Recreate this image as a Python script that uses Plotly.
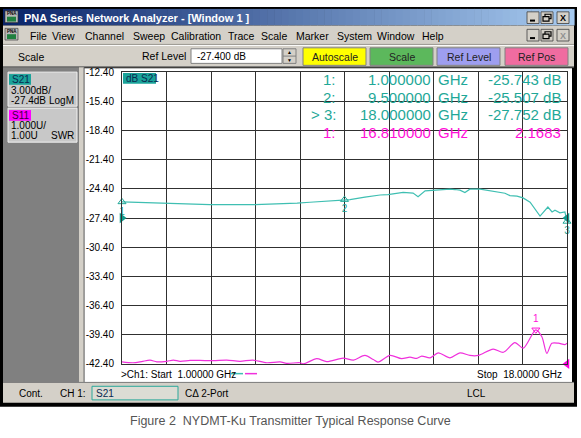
import plotly.graph_objects as go

W, H = 581, 438

# ---------------- data ----------------
start_ghz = 1.0
stop_ghz = 18.0
ref_level_db = -27.4
s11_ref_swr = 1.0
s11_top_swr = 11.0

s21_freq = [1.00, 1.31, 1.76, 2.07, 2.72, 3.22, 3.60, 3.98, 4.36, 4.82, 5.24, 5.70,
            6.08, 6.46, 6.84, 7.30, 7.69, 8.18, 8.56, 9.06, 9.50, 9.71, 10.28, 10.86,
            11.16, 11.43, 11.74, 12.12, 12.31, 12.58, 12.88, 13.22, 13.53, 13.72,
            13.91, 14.10, 14.29, 14.68, 15.06, 15.44, 15.63, 15.82, 16.09, 16.32,
            16.59, 16.97, 17.27, 17.43, 17.54, 17.73, 17.92, 18.00]
s21_db = [-25.743, -25.77, -25.83, -25.86, -25.93, -25.95, -25.98, -26.00, -26.03,
          -26.01, -26.05, -26.03, -26.03, -26.00, -25.95, -25.90, -25.87, -25.78,
          -25.70, -25.60, -25.507, -25.50, -25.25, -25.03, -25.00, -24.90, -24.77,
          -24.83, -25.20, -24.60, -24.53, -24.50, -24.43, -24.47, -24.53, -24.77,
          -24.43, -24.43, -24.60, -24.70, -24.85, -25.10, -25.15, -25.33, -25.77,
          -27.20, -26.27, -26.77, -26.60, -26.87, -26.77, -27.752]

s11_freq = [1.00, 1.42, 1.75, 2.07, 2.33, 2.71, 2.96, 3.22, 3.60, 3.98, 4.49, 5.00,
            5.51, 6.00, 6.53, 7.04, 7.29, 7.80, 7.93, 8.44, 8.82, 9.45, 9.84, 10.28,
            10.60, 10.78, 11.24, 11.68, 12.00, 12.26, 12.45, 12.77, 13.08, 13.53,
            13.91, 14.29, 14.61, 15.18, 15.57, 16.01, 16.33, 16.81, 17.04, 17.23,
            17.42, 17.67, 17.92, 18.00]
s11_swr = [1.07, 1.04, 1.08, 1.13, 1.07, 1.09, 1.13, 1.09, 1.12, 1.12, 1.11, 1.13,
           1.09, 1.13, 1.04, 1.07, 1.02, 1.04, 1.00, 1.18, 1.08, 1.20, 1.13, 1.29,
           1.15, 1.06, 1.29, 1.18, 1.23, 1.19, 1.27, 1.21, 1.38, 1.21, 1.38, 1.29,
           1.29, 1.51, 1.40, 1.73, 1.54, 2.1683, 1.93, 1.36, 1.71, 1.71, 1.66, 1.71]

y_tick_vals = [-12.4, -15.4, -18.4, -21.4, -24.4, -27.4, -30.4, -33.4, -36.4, -39.4, -42.4]
y_tick_labels = ["-12.40", "-15.40", "-18.40", "-21.40", "-24.40", "-27.40",
                 "-30.40", "-33.40", "-36.40", "-39.40", "-42.40"]

s21_marker_ids = ["1", "2", "3"]
s21_marker_rows = ["1:", "2:", "> 3:"]
s21_marker_freq = [1.0, 9.5, 18.0]
s21_marker_db = [-25.743, -25.507, -27.752]
s11_marker_ids = ["1"]
s11_marker_rows = ["1:"]
s11_marker_freq = [16.81]
s11_marker_swr = [2.1683]

menu_items = ["File", "View", "Channel", "Sweep", "Calibration", "Trace", "Scale",
              "Marker", "System", "Window", "Help"]
toolbar_buttons = ["Autoscale", "Scale", "Ref Level", "Ref Pos"]

# ---------------- styles / layout helpers ----------------
TEAL_TXT = "#1fa898"
TEAL_LINE = "#3fbfb2"
MAG_TXT = "#ff10d8"
MAG_LINE = "#f030dc"
GRAY = "#d4d0c8"
FONT = "Liberation Sans, Arial, sans-serif"

menu_x = [28, 50, 83, 131, 169, 226, 259, 294, 335, 375, 420]
button_x = [(303, 366), (370, 433), (437, 500), (505, 568)]
button_fill = ["#ffff00", "#5cb85c", "#9e9ef0", "#f06ca0"]

PX0, PX1, PY0, PY1 = 122, 567, 68, 368


def X(p):
    return p / W


def Y(p):
    return 1 - p / H


shapes = []
annotations = []


def rect(x0, y0, x1, y1, fill, line=None, lw=0, layer="below"):
    shapes.append(dict(type="rect", xref="paper", yref="paper",
                       x0=X(x0), x1=X(x1), y0=Y(y1), y1=Y(y0),
                       fillcolor=fill, layer=layer,
                       line=dict(color=line if line else fill, width=lw)))


def hline(x0, x1, y, color, lw=1):
    shapes.append(dict(type="line", xref="paper", yref="paper",
                       x0=X(x0), x1=X(x1), y0=Y(y), y1=Y(y),
                       line=dict(color=color, width=lw), layer="below"))


def vline(x, y0, y1, color, lw=1):
    shapes.append(dict(type="line", xref="paper", yref="paper",
                       x0=X(x), x1=X(x), y0=Y(y0), y1=Y(y1),
                       line=dict(color=color, width=lw), layer="below"))


def text(x, y, s, size=10, color="black", anchor="left", bold=False, family=FONT):
    if bold:
        s = "<b>" + s + "</b>"
    annotations.append(dict(xref="paper", yref="paper", x=X(x), y=Y(y), text=s,
                            showarrow=False, xanchor=anchor, yanchor="middle",
                            font=dict(size=size, color=color, family=family)))


# window frame
rect(0, 1, 577, 412, "black")
# title bar gradient
n = 80
c0 = (10, 36, 106)
c1 = (166, 202, 240)
for i in range(n):
    t = i / (n - 1)
    col = "rgb(%d,%d,%d)" % tuple(int(c0[k] + (c1[k] - c0[k]) * t) for k in range(3))
    xa = 3 + (574 - 3) * i / n
    xb = 3 + (574 - 3) * (i + 1) / n + 0.6
    rect(xa, 3, xb, 20, col)
# menu bar + toolbar
rect(3, 20, 574, 63, GRAY)
hline(3, 574, 40.5, "#ffffff")
hline(3, 574, 39.5, "#9a9890")
hline(3, 574, 62.5, "#606060")

# icons
for iy in (5, 23):
    rect(5, iy, 18, iy + 12, "#b8b8b8", "#303030", 0.6)
    rect(7, iy + 6, 16, iy + 11, "#208040")
    text(11.5, iy + 3, "PNA", 4.5, "#000", "center", True)

text(22, 12, "PNA Series Network Analyzer - [Window 1 ]", 11, "white", "left", True)

# window control buttons
for (by0, by1, close_col) in ((6, 18, "black"), (24, 36, "#909090")):
    for k, bx in enumerate((527, 541, 557)):
        rect(bx, by0, bx + 12, by1, GRAY, "#404040", 0.8)
        if k == 0:
            hline(bx + 3, bx + 8, by1 - 3, "black", 2)
        elif k == 1:
            rect(bx + 4, by0 + 2.5, bx + 10, by0 + 7, "rgba(0,0,0,0)", "black", 1.2)
            rect(bx + 2, by0 + 5, bx + 8, by1 - 2.5, GRAY, "black", 1.2)
        else:
            text(bx + 6, (by0 + by1) / 2 + 0.5, "X", 9, close_col, "center", True)

for name, mx in zip(menu_items, menu_x):
    text(mx, 31, name, 10.5, "black")

# toolbar
text(16, 52, "Scale", 10.5, "black")
text(188, 51, "Ref Level", 10.5, "black", "right")
rect(191, 44, 282, 59, "white", "#808080", 1)
text(195, 51.5, "-27.400 dB", 10, "black")
rect(283, 44, 296, 59, GRAY, "#808080", 1)
hline(283, 296, 51.5, "#808080")
text(289.5, 47.5, "▲", 5, "#000", "center")
text(289.5, 55.5, "▼", 5, "#000", "center")
for name, (bx0, bx1), col in zip(toolbar_buttons, button_x, button_fill):
    rect(bx0, 43, bx1, 61, col, "#808080", 1)
    text((bx0 + bx1) / 2, 52, name, 10.5, "#222", "center")

# main area
rect(3, 63, 79, 387, "#808080")
rect(79, 63, 84, 387, GRAY)
vline(84, 63, 387, "#707070")
rect(84.5, 64, 572, 387, "white")

# trace info boxes in left panel
rect(8, 68, 77, 103, "#c8c8c8", "#f0f0f0", 1)
rect(9, 70, 31, 81, "#1aa39a")
text(10, 75.5, "S21", 10, "#0a2a50")
text(9, 87, "3.000dB/", 10, "black")
text(9, 97, "-27.4dB", 10, "black")
text(76, 97, "LogM", 10, "black", "right")
rect(8, 105, 77, 140, "#c8c8c8", "#f0f0f0", 1)
rect(9, 107, 31, 118, "#ff00ff")
text(10, 112.5, "S11", 10, "#3a0040")
text(9, 123, "1.000U/", 10, "black")
text(9, 133, "1.00U", 10, "black")
text(76, 133, "SWR", 10, "black", "right")

# "dB S21" tag in graticule
rect(123, 69, 156, 80, "#1aa39a", layer="above")
text(124, 74.5, "dB S21", 10, "#0a2a50")

# marker readout table
for row, f, v, i in zip(s21_marker_rows, s21_marker_freq, s21_marker_db, range(3)):
    yy = 76 + 18 * i
    text(338, yy, row, 15, TEAL_TXT, "right")
    text(433, yy, "%.6f" % f, 15, TEAL_TXT, "right")
    text(436, yy, "GHz", 15, TEAL_TXT, "left")
    text(563, yy, "%.3f dB" % v, 15, TEAL_TXT, "right")
for row, f, v in zip(s11_marker_rows, s11_marker_freq, s11_marker_swr):
    yy = 130
    text(338, yy, row, 15, MAG_TXT, "right")
    text(433, yy, "%.6f" % f, 15, MAG_TXT, "right")
    text(436, yy, "GHz", 15, MAG_TXT, "left")
    text(563, yy, "%.4f" % v, 15, MAG_TXT, "right")

# bottom channel annotation
text(119, 378.5, ">Ch1: Start\u00a0 %.5f GHz" % start_ghz, 10, "black")
hline(231, 243, 378, TEAL_LINE, 1.5)
hline(245, 257, 378, MAG_LINE, 1.5)
text(564, 378.5, "Stop\u00a0 %.4f GHz" % stop_ghz, 10, "black", "right")

# status bar
rect(3, 387, 574, 408, GRAY)
hline(3, 574, 387, "#808080")
text(17, 398, "Cont.", 10, "black")
text(58, 398, "CH 1:", 10, "black")
rect(92, 391, 178, 405, "#dcdcd4", "#2aa89a", 1)
text(94, 398, "S21", 10, "#0a2a50")
text(183, 398, "CΔ 2-Port", 10, "black")
text(465, 398, "LCL", 10, "black")

# caption
text(290, 427, "Figure 2\u00a0 NYDMT-Ku Transmitter Typical Response Curve", 12.5, "#555555", "center")

# ---------------- traces ----------------
fig = go.Figure()
fig.add_trace(go.Scatter(x=s21_freq, y=s21_db, mode="lines", yaxis="y",
                         line=dict(color=TEAL_LINE, width=1.2), hoverinfo="skip"))
fig.add_trace(go.Scatter(x=s11_freq, y=s11_swr, mode="lines", yaxis="y2",
                         line=dict(color=MAG_LINE, width=1.2, shape="spline", smoothing=0.8),
                         hoverinfo="skip"))
fig.add_trace(go.Scatter(x=s21_marker_freq, y=s21_marker_db, mode="markers+text",
                         text=s21_marker_ids, textposition="bottom center",
                         textfont=dict(size=10, color=TEAL_TXT, family=FONT),
                         marker=dict(symbol="triangle-up-open", size=7, color=TEAL_TXT,
                                     line=dict(width=1)),
                         cliponaxis=False, hoverinfo="skip"))
fig.add_trace(go.Scatter(x=s11_marker_freq, y=s11_marker_swr, mode="markers+text",
                         yaxis="y2", text=s11_marker_ids, textposition="top center",
                         textfont=dict(size=10, color=MAG_TXT, family=FONT),
                         marker=dict(symbol="triangle-down-open", size=7, color=MAG_TXT,
                                     line=dict(width=1)),
                         cliponaxis=False, hoverinfo="skip"))
# reference position pointers
fig.add_trace(go.Scatter(x=[start_ghz, stop_ghz], y=[ref_level_db, ref_level_db],
                         mode="markers",
                         marker=dict(symbol=["triangle-right", "triangle-left"], size=9,
                                     color="#109a8c"),
                         cliponaxis=False, hoverinfo="skip"))
fig.add_trace(go.Scatter(x=[stop_ghz], y=[s11_ref_swr], mode="markers", yaxis="y2",
                         marker=dict(symbol="triangle-left", size=9, color="#ff00e0"),
                         cliponaxis=False, hoverinfo="skip"))

fig.update_layout(
    width=W, height=H, autosize=False,
    margin=dict(l=0, r=0, t=0, b=0, pad=0),
    paper_bgcolor="white", plot_bgcolor="rgba(0,0,0,0)",
    showlegend=False,
    shapes=shapes, annotations=annotations,
    font=dict(family=FONT),
    xaxis=dict(domain=[X(PX0), X(PX1)], range=[start_ghz, stop_ghz],
               tick0=start_ghz, dtick=(stop_ghz - start_ghz) / 10,
               showgrid=True, gridcolor="#303030", gridwidth=1,
               showticklabels=False, ticks="", zeroline=False,
               showline=True, linecolor="#303030", linewidth=1, mirror=True,
               fixedrange=True),
    yaxis=dict(domain=[Y(PY1), Y(PY0)], range=[y_tick_vals[-1], y_tick_vals[0]],
               tickvals=y_tick_vals, ticktext=y_tick_labels,
               showgrid=True, gridcolor="#303030", gridwidth=1,
               ticks="outside", ticklen=5, tickcolor="rgba(0,0,0,0)",
               tickfont=dict(size=10, color="black", family=FONT),
               zeroline=False, showline=True, linecolor="#303030", linewidth=1,
               mirror=True, fixedrange=True),
    yaxis2=dict(domain=[Y(PY1), Y(PY0)], overlaying="y", range=[s11_ref_swr, s11_top_swr],
                showgrid=False, showticklabels=False, ticks="", zeroline=False,
                showline=False, fixedrange=True, side="right"),
)

fig.write_html("out.html", config={"displayModeBar": False},
               post_script="document.body.style.margin='0';document.body.style.overflow='hidden';")
